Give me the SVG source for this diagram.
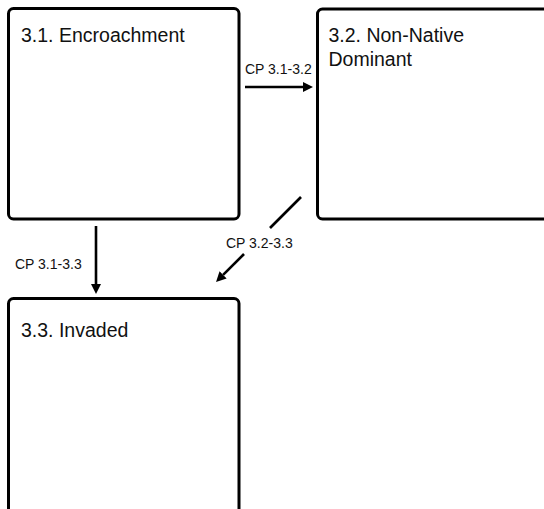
<svg xmlns="http://www.w3.org/2000/svg" width="544" height="509" viewBox="0 0 544 509">
<style>
.box{fill:#fff;stroke:#000;stroke-width:3}
.title{font-family:"Liberation Sans",Arial,sans-serif;font-size:19.5px;fill:#111}
.lbl{font-family:"Liberation Sans",Arial,sans-serif;font-size:14px;fill:#111}
.conn{stroke:#000;stroke-width:2.6;fill:none}
</style>
<defs>
<marker id="ah" viewBox="0 0 10 10" refX="0" refY="5" markerWidth="10" markerHeight="10" markerUnits="userSpaceOnUse" orient="auto">
<path d="M0,0 L10,5 L0,10 z" fill="#000"/>
</marker>
</defs>
<rect width="544" height="509" fill="#fff"/>
<g id="node-3-1">
<rect class="box" x="8.5" y="8.5" width="230.5" height="210.5" rx="5"/>
<text class="title" x="21" y="41.5">3.1. Encroachment</text>
</g>
<g id="node-3-2">
<rect class="box" x="317.5" y="9" width="240" height="210" rx="5"/>
<text class="title" x="328.5" y="41.5">3.2. Non-Native</text>
<text class="title" x="328.5" y="65.5">Dominant</text>
</g>
<g id="node-3-3">
<rect class="box" x="8.5" y="298.5" width="230.5" height="225" rx="5"/>
<text class="title" x="21" y="336.5">3.3. Invaded</text>
</g>
<g id="connectors">
<line class="conn" x1="245" y1="87" x2="303" y2="87" marker-end="url(#ah)"/>
<text class="lbl" x="245" y="74">CP 3.1-3.2</text>
<line class="conn" x1="96" y1="226" x2="96" y2="284" marker-end="url(#ah)"/>
<text class="lbl" x="15" y="269">CP 3.1-3.3</text>
<line class="conn" x1="301" y1="197" x2="270" y2="228"/>
<line class="conn" x1="244" y1="254" x2="223.1" y2="274.9" marker-end="url(#ah)"/>
<text class="lbl" x="226" y="248">CP 3.2-3.3</text>
</g>
</svg>
